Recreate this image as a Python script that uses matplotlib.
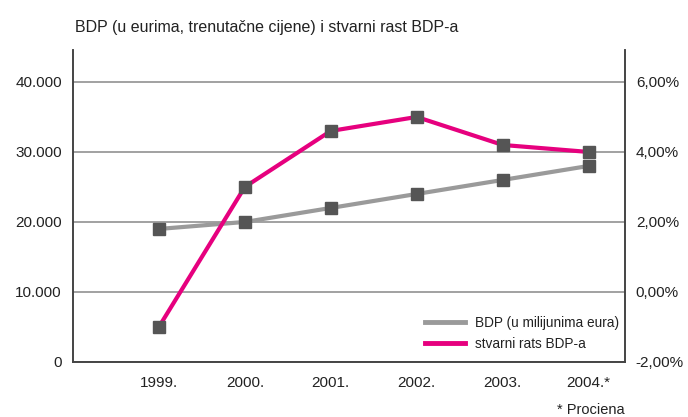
import matplotlib.pyplot as plt
from matplotlib.ticker import FuncFormatter
from matplotlib.lines import Line2D

plt.rcParams['font.family'] = ['Liberation Sans', 'DejaVu Sans']

# Data
years = ['1999.', '2000.', '2001.', '2002.', '2003.', '2004.*']
bdp = [19000, 20000, 22000, 24000, 26000, 28000]     # BDP u milijunima eura
rast = [-1.0, 3.0, 4.6, 5.0, 4.2, 4.0]              # stvarni rast BDP-a, %

gray = '#9a9a9a'
magenta = '#e6007e'
marker_col = '#555555'
text_col = '#222222'

fig = plt.figure(figsize=(6.88, 4.17), dpi=100)
ax = fig.add_axes([0.106, 0.132, 0.802, 0.747])
ax2 = ax.twinx()

x = list(range(len(years)))

ax.plot(x, bdp, color=gray, lw=3, marker='s', ms=8.5,
        mfc=marker_col, mec=marker_col, zorder=3, label='BDP (u milijunima eura)')
ax2.plot(x, rast, color=magenta, lw=3, marker='s', ms=8.5,
         mfc=marker_col, mec=marker_col, zorder=3, label='stvarni rats BDP-a')

ax.set_xlim(-1, 5.42)
ax.set_ylim(0, 44500)
ax2.set_ylim(-2, 6.9)
ax.set_yticks([0, 10000, 20000, 30000, 40000])
ax2.set_yticks([-2, 0, 2, 4, 6])
ax.set_xticks(x)
ax.set_xticklabels(years)

ax.yaxis.set_major_formatter(FuncFormatter(lambda v, p: f'{int(v):,}'.replace(',', '.')))
ax2.yaxis.set_major_formatter(FuncFormatter(lambda v, p: f'{v:.2f}'.replace('.', ',') + '%'))

for a in (ax, ax2):
    a.tick_params(length=0, labelsize=11, colors=text_col)
    a.spines['top'].set_visible(False)
    for s in ('left', 'right', 'bottom'):
        a.spines[s].set_color('#444444')
        a.spines[s].set_linewidth(1.2)
ax.tick_params(axis='x', pad=10)
ax.tick_params(axis='y', pad=8)
ax2.tick_params(axis='y', pad=8)

ax.grid(axis='y', color=gray, lw=1.3)
ax.set_axisbelow(True)

labels = ['BDP (u milijunima eura)', 'stvarni rats BDP-a']
handles = [Line2D([], [], color=gray, lw=3.5), Line2D([], [], color=magenta, lw=3.5)]
ax2.legend(handles, labels, loc='lower right', frameon=False, fontsize=9.8,
           handlelength=3.0, handletextpad=0.7, labelspacing=0.55,
           bbox_to_anchor=(1.012, -0.005), labelcolor=text_col)

fig.text(0.109, 0.935, 'BDP (u eurima, trenutačne cijene) i stvarni rast BDP-a',
         fontsize=11.5, color=text_col, va='center')
fig.text(0.908, 0.0, '* Prociena', fontsize=10.5, color=text_col, ha='right', va='bottom')

plt.savefig('out.png', dpi=100)
